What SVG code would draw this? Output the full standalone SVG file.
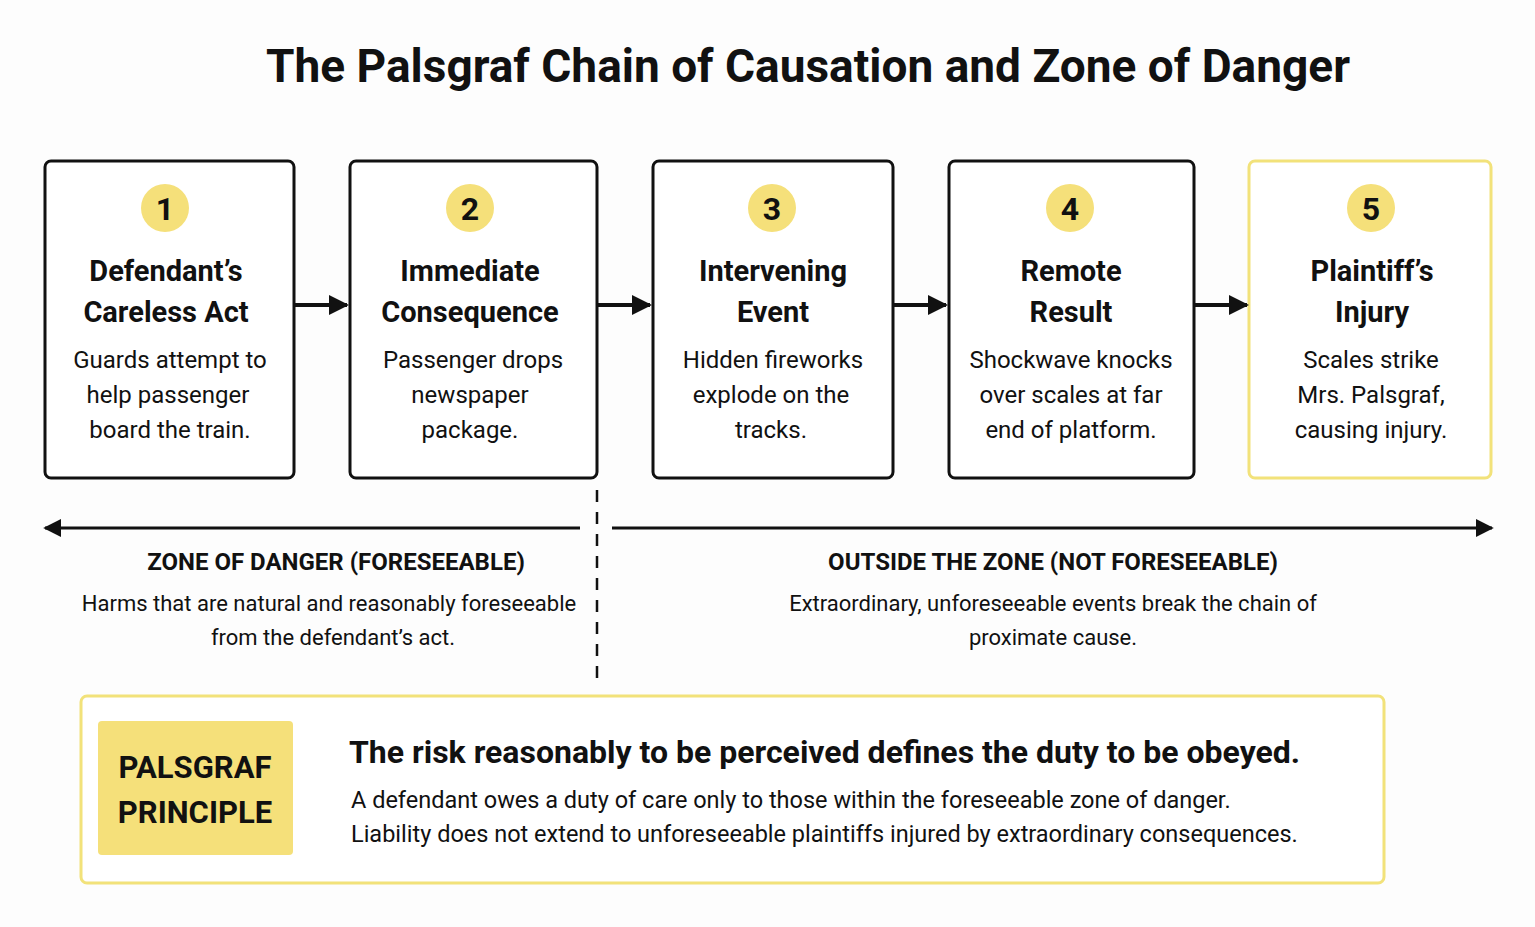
<svg xmlns="http://www.w3.org/2000/svg" width="1535" height="927" viewBox="0 0 1535 927">
<style>
text{font-family:Roboto,"Liberation Sans",sans-serif;fill:#111;text-anchor:middle}
.box{fill:#fff;stroke:#111;stroke-width:3}
.ybox{fill:#fff;stroke:#f2e27a;stroke-width:3}
.num{fill:#f5e07a}
.nt{font-size:32px;font-weight:700}
.ti{font-size:29px;font-weight:700}
.bd{font-size:24px}
.zt{font-size:24px;font-weight:700}
.zd{font-size:22px}
.con{stroke:#111;stroke-width:4;fill:none}
</style>
<defs>
<marker id="ah" viewBox="0 0 10 10" refX="9" refY="5" markerWidth="5" markerHeight="5" orient="auto-start-reverse"><path d="M0,0L10,5L0,10z" fill="#111"/></marker>
<marker id="ah2" viewBox="0 0 10 10" refX="9" refY="5" markerWidth="6" markerHeight="6" orient="auto-start-reverse"><path d="M0,0L10,5L0,10z" fill="#111"/></marker>
</defs>
<rect width="1535" height="927" fill="#fdfdfd"/>
<text x="808" y="82" style="font-size:46px;font-weight:700">The Palsgraf Chain of Causation and Zone of Danger</text>
<g id="n1"><rect class="box" x="45" y="161" width="249" height="317" rx="6"/><circle class="num" cx="165" cy="208" r="24"/><text class="nt" x="165" y="220">1</text><text class="ti" x="166" y="281">Defendant’s</text><text class="ti" x="166" y="322">Careless Act</text><text class="bd" x="170" y="368">Guards attempt to</text><text class="bd" x="168" y="403">help passenger</text><text class="bd" x="170" y="438">board the train.</text></g>
<g id="n2"><rect class="box" x="350" y="161" width="247" height="317" rx="6"/><circle class="num" cx="470" cy="208" r="24"/><text class="nt" x="470" y="220">2</text><text class="ti" x="470" y="281">Immediate</text><text class="ti" x="470" y="322">Consequence</text><text class="bd" x="473" y="368">Passenger drops</text><text class="bd" x="470" y="403">newspaper</text><text class="bd" x="470" y="438">package.</text></g>
<g id="n3"><rect class="box" x="653" y="161" width="240" height="317" rx="6"/><circle class="num" cx="772" cy="208" r="24"/><text class="nt" x="772" y="220">3</text><text class="ti" x="773" y="281">Intervening</text><text class="ti" x="773" y="322">Event</text><text class="bd" x="773" y="368">Hidden fireworks</text><text class="bd" x="771" y="403">explode on the</text><text class="bd" x="771" y="438">tracks.</text></g>
<g id="n4"><rect class="box" x="949" y="161" width="245" height="317" rx="6"/><circle class="num" cx="1070" cy="208" r="24"/><text class="nt" x="1070" y="220">4</text><text class="ti" x="1071" y="281">Remote</text><text class="ti" x="1071" y="322">Result</text><text class="bd" x="1071" y="368">Shockwave knocks</text><text class="bd" x="1071" y="403">over scales at far</text><text class="bd" x="1071" y="438">end of platform.</text></g>
<g id="n5"><rect class="ybox" x="1249" y="161" width="242" height="317" rx="6"/><circle class="num" cx="1371" cy="208" r="24"/><text class="nt" x="1371" y="220">5</text><text class="ti" x="1372" y="281">Plaintiff’s</text><text class="ti" x="1372" y="322">Injury</text><text class="bd" x="1371" y="368">Scales strike</text><text class="bd" x="1371" y="403">Mrs. Palsgraf,</text><text class="bd" x="1371" y="438">causing injury.</text></g>
<g id="connectors">
<line class="con" x1="295" y1="305" x2="347" y2="305" marker-end="url(#ah)"/>
<line class="con" x1="598" y1="305" x2="650" y2="305" marker-end="url(#ah)"/>
<line class="con" x1="894" y1="305" x2="946" y2="305" marker-end="url(#ah)"/>
<line class="con" x1="1195" y1="305" x2="1247" y2="305" marker-end="url(#ah)"/>
<line stroke="#111" stroke-width="3" x1="580" y1="528" x2="45" y2="528" marker-end="url(#ah2)"/>
<line stroke="#111" stroke-width="3" x1="612" y1="528" x2="1492" y2="528" marker-end="url(#ah2)"/>
<line stroke="#111" stroke-width="2.5" stroke-dasharray="12,10" x1="597" y1="490" x2="597" y2="680"/>
</g>
<g id="zones">
<text class="zt" x="336" y="570">ZONE OF DANGER (FORESEEABLE)</text>
<text class="zd" x="329" y="611">Harms that are natural and reasonably foreseeable</text>
<text class="zd" x="333" y="645">from the defendant’s act.</text>
<text class="zt" x="1053" y="570">OUTSIDE THE ZONE (NOT FORESEEABLE)</text>
<text class="zd" x="1053" y="611">Extraordinary, unforeseeable events break the chain of</text>
<text class="zd" x="1053" y="645">proximate cause.</text>
</g>
<g id="principle">
<rect x="81" y="696" width="1303" height="187" rx="6" fill="#fff" stroke="#f2e27a" stroke-width="3"/>
<rect x="98" y="721" width="195" height="134" rx="4" fill="#f5e07a"/>
<text x="195" y="778" style="font-size:31px;font-weight:700">PALSGRAF</text>
<text x="195" y="823" style="font-size:31px;font-weight:700">PRINCIPLE</text>
<text x="349" y="763" style="font-size:32px;font-weight:700;text-anchor:start">The risk reasonably to be perceived defines the duty to be obeyed.</text>
<text x="351" y="808" style="font-size:23.5px;text-anchor:start">A defendant owes a duty of care only to those within the foreseeable zone of danger.</text>
<text x="351" y="842" style="font-size:23.5px;text-anchor:start">Liability does not extend to unforeseeable plaintiffs injured by extraordinary consequences.</text>
</g>
</svg>
